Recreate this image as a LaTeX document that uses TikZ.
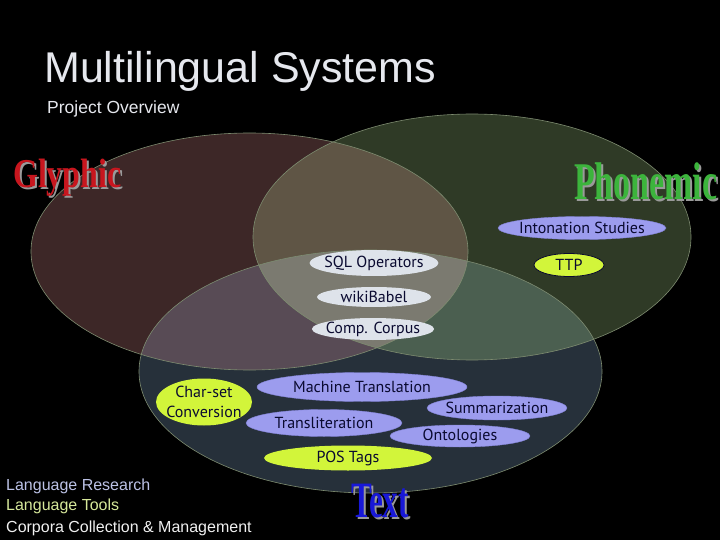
\documentclass[tikz,border=0pt]{standalone}
\usepackage{fontspec}
\setmainfont{Liberation Sans}
\newfontfamily\serifb{Liberation Serif}
\newfontfamily\bub{PT Sans}
\usetikzlibrary{shapes.geometric}
\definecolor{gcol}{HTML}{3D2727}
\definecolor{pcol}{HTML}{2F3A26}
\definecolor{tcol}{HTML}{26303A}
\definecolor{gpcol}{HTML}{5F5545}
\definecolor{gtcol}{HTML}{584B55}
\definecolor{ptcol}{HTML}{4B5F50}
\definecolor{allcol}{HTML}{7B7A70}
\definecolor{edge}{HTML}{7E8C70}
\definecolor{lav}{HTML}{9C9CEE}
\definecolor{lavdark}{HTML}{8484D8}
\definecolor{lime}{HTML}{D2F53A}
\definecolor{pale}{HTML}{DEE3EA}
\definecolor{ink}{HTML}{0A0A30}
\definecolor{titlecol}{HTML}{E6E8EE}
\definecolor{glyred}{HTML}{C8161E}
\definecolor{phogreen}{HTML}{3CB43C}
\definecolor{txtblue}{HTML}{1818D8}
\definecolor{shadow}{HTML}{9A9A9A}
\definecolor{rescol}{HTML}{BCC2E6}
\definecolor{toolcol}{HTML}{D6E89A}
\definecolor{corpcol}{HTML}{F0F0F0}
\newcommand{\shadowword}[3]{\makebox[0pt][l]{\hspace{2pt}\raisebox{-2pt}{\textcolor{shadow}{\scalebox{#1}[1]{#3}}}}\textcolor{#2}{\scalebox{#1}[1]{#3}}}
\begin{document}
\begin{tikzpicture}[x=1pt,y=-1pt,
  bubble/.style={ellipse, inner sep=-4pt, font=\bub\fontsize{16}{17}\selectfont, text=ink, align=center},
  lavb/.style={bubble, fill=lav, draw=lavdark, line width=0.4pt},
  limeb/.style={bubble, fill=lime},
  paleb/.style={bubble, fill=pale},
  venn/.style={draw=edge, line width=0.6pt},
  bigword/.style={anchor=base west, inner sep=0pt},
  legend/.style={anchor=base west, inner sep=0pt, font=\fontsize{16}{18}\selectfont}]
\fill[black] (0,0) rectangle (720,540);
\useasboundingbox (0,0) rectangle (720,540);
% Venn fills
\fill[gcol] (249.5,251.5) ellipse [x radius=218.5pt, y radius=118.5pt];
\fill[pcol] (472,237) ellipse [x radius=219pt, y radius=123pt];
\fill[tcol] (370.5,371.5) ellipse [x radius=231.5pt, y radius=121.5pt];
\begin{scope}
  \clip (249.5,251.5) ellipse [x radius=218.5pt, y radius=118.5pt];
  \fill[gpcol] (472,237) ellipse [x radius=219pt, y radius=123pt];
\end{scope}
\begin{scope}
  \clip (249.5,251.5) ellipse [x radius=218.5pt, y radius=118.5pt];
  \fill[gtcol] (370.5,371.5) ellipse [x radius=231.5pt, y radius=121.5pt];
\end{scope}
\begin{scope}
  \clip (472,237) ellipse [x radius=219pt, y radius=123pt];
  \fill[ptcol] (370.5,371.5) ellipse [x radius=231.5pt, y radius=121.5pt];
\end{scope}
\begin{scope}
  \clip (249.5,251.5) ellipse [x radius=218.5pt, y radius=118.5pt];
  \clip (472,237) ellipse [x radius=219pt, y radius=123pt];
  \fill[allcol] (370.5,371.5) ellipse [x radius=231.5pt, y radius=121.5pt];
\end{scope}
\draw[venn] (249.5,251.5) ellipse [x radius=218.5pt, y radius=118.5pt];
\draw[venn] (472,237) ellipse [x radius=219pt, y radius=123pt];
\draw[venn] (370.5,371.5) ellipse [x radius=231.5pt, y radius=121.5pt];
% titles
\node[anchor=base west, inner sep=0pt, text=titlecol, font=\fontsize{43}{45}\selectfont] (title) at (44,83) {Multilingual Systems};
\node[anchor=base west, inner sep=0pt, text=titlecol, font=\fontsize{17.5}{19}\selectfont] (subtitle) at (47,114) {Project Overview};
% set labels with shadows
\node[bigword, font=\serifb\bfseries\fontsize{41}{41}\selectfont] (gly) at (13,188) {\shadowword{0.78}{glyred}{Glyphic}};
\node[bigword, font=\serifb\bfseries\fontsize{53}{53}\selectfont] (pho) at (574,200) {\shadowword{0.64}{phogreen}{Phonemic}};
\node[bigword, font=\serifb\bfseries\fontsize{51}{51}\selectfont] (txt) at (351,517) {\shadowword{0.61}{txtblue}{Text}};
% bubbles
\node[lavb, minimum width=168pt, minimum height=23pt] (inton) at (582,228) {Intonation Studies};
\node[limeb, draw=ink, line width=0.8pt, minimum width=70pt, minimum height=23pt] (ttp) at (569,265) {TTP};
\node[paleb, minimum width=126pt, minimum height=26pt] (sql) at (374,263) {SQL Operators};
\node[paleb, minimum width=114pt, minimum height=20pt] (wiki) at (374,297) {wikiBabel};
\node[paleb, minimum width=122pt, minimum height=22pt] (comp) at (373,329) {Comp. Corpus};
\node[limeb, inner xsep=-12pt, minimum width=96pt, minimum height=47pt, font=\bub\fontsize{16}{20}\selectfont] (charset) at (204,402) {Char-set\\Conversion};
\node[lavb, minimum width=210pt, minimum height=29pt] (mt) at (362,387) {Machine Translation};
\node[lavb, minimum width=156pt, minimum height=27pt] (translit) at (324,423) {Transliteration};
\node[lavb, minimum width=140pt, minimum height=24pt] (summ) at (497,408) {Summarization};
\node[lavb, minimum width=140pt, minimum height=22pt] (onto) at (460,436) {Ontologies};
\node[limeb, minimum width=168pt, minimum height=25pt] (pos) at (348,458) {POS Tags};
% legend
\node[legend, text=rescol] (leg1) at (6,490) {Language Research};
\node[legend, text=toolcol] (leg2) at (6,510.5) {Language Tools};
\node[legend, text=corpcol] (leg3) at (6,532) {Corpora Collection \& Management};
\end{tikzpicture}
\end{document}
